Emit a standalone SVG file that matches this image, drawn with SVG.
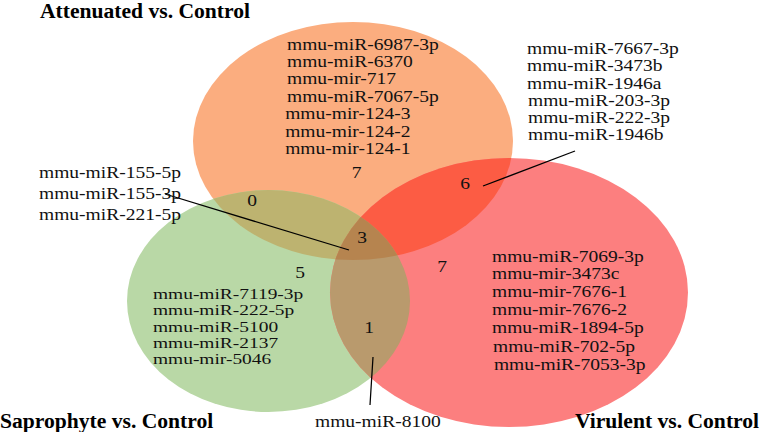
<svg xmlns="http://www.w3.org/2000/svg" width="760" height="432" viewBox="0 0 760 432">
<style>
.lbl{font-family:"Liberation Serif","Times New Roman",serif;font-size:16px;fill:#111}
.sm{font-size:14.5px}
.num{font-family:"Liberation Serif","Times New Roman",serif;font-size:16px;fill:#111;text-anchor:middle}
.ttl{font-family:"Liberation Serif","Times New Roman",serif;font-size:20px;font-weight:bold;fill:#000}
.lead{stroke:#000;stroke-width:1.3;fill:none}
</style>
<defs>
<clipPath id="cA"><ellipse cx="353" cy="141" rx="160" ry="119"/></clipPath>
<clipPath id="cS"><ellipse cx="268.5" cy="301" rx="141.5" ry="111"/></clipPath>
<clipPath id="cV"><ellipse cx="509" cy="292.5" rx="179" ry="134.5"/></clipPath>
</defs>
<rect width="760" height="432" fill="#fff"/>
<g id="set-attenuated"><ellipse cx="353" cy="141" rx="160" ry="119" fill="#FBAD7F"/></g>
<g id="set-saprophyte"><ellipse cx="268.5" cy="301" rx="141.5" ry="111" fill="#B9D8A6"/></g>
<g id="set-virulent"><ellipse cx="509" cy="292.5" rx="179" ry="134.5" fill="#FC7F7F"/></g>
<g id="overlaps">
<ellipse cx="268.5" cy="301" rx="141.5" ry="111" fill="#BDB370" clip-path="url(#cA)"/>
<ellipse cx="509" cy="292.5" rx="179" ry="134.5" fill="#FC5C44" clip-path="url(#cA)"/>
<ellipse cx="509" cy="292.5" rx="179" ry="134.5" fill="#B99A6D" clip-path="url(#cS)"/>
<g clip-path="url(#cA)"><ellipse cx="509" cy="292.5" rx="179" ry="134.5" fill="#B6844F" clip-path="url(#cS)"/></g>
</g>
<g id="connectors">
<line class="lead" x1="165" y1="194" x2="349" y2="250"/>
<line class="lead" x1="483" y1="186" x2="575" y2="151"/>
<line class="lead" x1="373" y1="357" x2="370" y2="405"/>
</g>
<g id="titles">
<text class="ttl" transform="translate(40,18) scale(1.08,1)">Attenuated vs. Control</text>
<text class="ttl" transform="translate(0,428) scale(1.08,1)">Saprophyte vs. Control</text>
<text class="ttl" transform="translate(575,428) scale(1.08,1)">Virulent vs. Control</text>
</g>
<g id="attenuated-only" transform="translate(287,50) scale(1.22,1)">
<text class="lbl"><tspan x="0" y="0">mmu-miR-6987-3p</tspan><tspan x="0" y="17">mmu-miR-6370</tspan><tspan x="0" y="34">mmu-mir-717</tspan><tspan x="0" y="52">mmu-miR-7067-5p</tspan><tspan x="-1.5" y="69">mmu-mir-124-3</tspan><tspan x="-1.5" y="87">mmu-mir-124-2</tspan><tspan x="-1.5" y="104">mmu-mir-124-1</tspan></text>
<text class="num" x="57" y="128">7</text>
</g>
<g id="attenuated-virulent">
<g transform="translate(465,189) scale(1.22,1)"><text class="num" x="0" y="0">6</text></g>
<g transform="translate(527,54) scale(1.22,1)"><text class="lbl"><tspan x="0" y="0">mmu-miR-7667-3p</tspan><tspan x="0" y="17.5">mmu-miR-3473b</tspan><tspan x="0" y="35">mmu-miR-1946a</tspan><tspan x="0.8" y="52.5">mmu-miR-203-3p</tspan><tspan x="0.8" y="69.5">mmu-miR-222-3p</tspan><tspan x="0.8" y="86.5">mmu-miR-1946b</tspan></text></g>
</g>
<g id="attenuated-saprophyte">
<g transform="translate(252,206) scale(1.22,1)"><text class="num" x="0" y="0">0</text></g>
</g>
<g id="all-three">
<g transform="translate(362,243) scale(1.22,1)"><text class="num" x="0" y="0">3</text></g>
<g transform="translate(39,178) scale(1.22,1)"><text class="lbl"><tspan x="0" y="0">mmu-miR-155-5p</tspan><tspan x="0" y="21">mmu-miR-155-3p</tspan><tspan x="0" y="42">mmu-miR-221-5p</tspan></text></g>
</g>
<g id="saprophyte-only">
<g transform="translate(300,278) scale(1.22,1)"><text class="num" x="0" y="0">5</text></g>
<g transform="translate(153,299) scale(1.34,1)"><text class="lbl sm"><tspan x="0" y="0">mmu-miR-7119-3p</tspan><tspan x="0" y="16">mmu-miR-222-5p</tspan><tspan x="0" y="33">mmu-miR-5100</tspan><tspan x="0" y="49">mmu-miR-2137</tspan><tspan x="0" y="65">mmu-mir-5046</tspan></text></g>
</g>
<g id="saprophyte-virulent">
<g transform="translate(369,333) scale(1.22,1)"><text class="num" x="0" y="0">1</text></g>
<g transform="translate(315,427) scale(1.22,1)"><text class="lbl" x="0" y="0">mmu-miR-8100</text></g>
</g>
<g id="virulent-only">
<g transform="translate(442,272) scale(1.22,1)"><text class="num" x="0" y="0">7</text></g>
<g transform="translate(492,262) scale(1.22,1)"><text class="lbl"><tspan x="0" y="0">mmu-miR-7069-3p</tspan><tspan x="0" y="17">mmu-mir-3473c</tspan><tspan x="0" y="35">mmu-mir-7676-1</tspan><tspan x="0" y="53">mmu-mir-7676-2</tspan><tspan x="0" y="71">mmu-miR-1894-5p</tspan><tspan x="0.8" y="90">mmu-miR-702-5p</tspan><tspan x="1.6" y="108">mmu-miR-7053-3p</tspan></text></g>
</g>
</svg>
